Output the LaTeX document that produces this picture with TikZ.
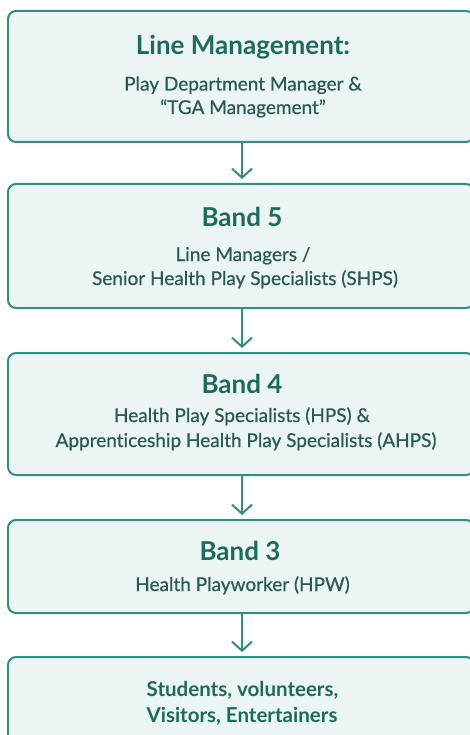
\documentclass[tikz,border=0pt]{standalone}
\usepackage{fontspec}
\setmainfont{Lato}[Ligatures=NoCommon]
\newfontfamily\bodyf{Lato}[FakeBold=0.6,Ligatures=NoCommon]
\usetikzlibrary{arrows.meta}
\definecolor{bord}{HTML}{358C81}
\definecolor{fillc}{HTML}{EBF5F3}
\definecolor{ttl}{HTML}{1E6A5D}
\definecolor{txt}{HTML}{2A5A54}
\begin{document}
\begin{tikzpicture}[x=1pt,y=-1pt,
  box/.style={draw=bord, line width=2pt, fill=fillc, rounded corners=8pt,
    minimum width=466pt, inner sep=0pt},
  ttltext/.style={anchor=base, inner sep=0pt, text=ttl,
    font=\fontsize{26}{30}\selectfont\bfseries},
  bodytext/.style={anchor=base, inner sep=0pt, text=txt,
    font=\fontsize{19}{23}\bodyf},
  boldtext/.style={anchor=base, inner sep=0pt, text=ttl,
    font=\fontsize{20.5}{24}\selectfont\bfseries},
  conn/.style={draw=bord, line width=2pt, shorten >=4pt,
    -{Straight Barb[length=9pt,width=20pt,line width=2pt]}}
]
\useasboundingbox (0,0) rectangle (470,735);
\fill[white] (0,0) rectangle (470,735);
\node[box, minimum height=131pt] (b1) at (241,76.5) {};
\node[box, minimum height=124pt] (b2) at (241,246) {};
\node[box, minimum height=122pt] (b3) at (241,414) {};
\node[box, minimum height=93pt] (b4) at (241,566.5) {};
\node[box, minimum height=93pt] (b5) at (241,703.5) {};

\node[ttltext] (t1) at (243,55) {Line Management:};
\node[bodytext] (t1a) at (243,90.5) {Play Department Manager \&};
\node[bodytext] (t1b) at (243,114) {“TGA Management”};

\node[ttltext] (t2) at (242,226) {Band 5};
\node[bodytext] (t2a) at (243,261) {Line Managers /};
\node[bodytext] (t2b) at (245,285) {Senior Health Play Specialists (SHPS)};

\node[ttltext] (t3) at (242,393) {Band 4};
\node[bodytext] (t3a) at (242,422) {Health Play Specialists (HPS) \&};
\node[bodytext] (t3b) at (246,447) {Apprenticeship Health Play Specialists (AHPS)};

\node[ttltext] (t4) at (240,560) {Band 3};
\node[bodytext] (t4a) at (242.5,591) {Health Playworker (HPW)};

\node[boldtext] (t5a) at (242.5,696) {Students, volunteers,};
\node[boldtext] (t5b) at (242,722) {Visitors, Entertainers};

\draw[conn] (b1.south -| 242,0) -- (b2.north -| 242,0);
\draw[conn] (b2.south -| 242,0) -- (b3.north -| 242,0);
\draw[conn] (b3.south -| 242,0) -- (b4.north -| 242,0);
\draw[conn] (b4.south -| 242,0) -- (b5.north -| 242,0);
\end{tikzpicture}
\end{document}
